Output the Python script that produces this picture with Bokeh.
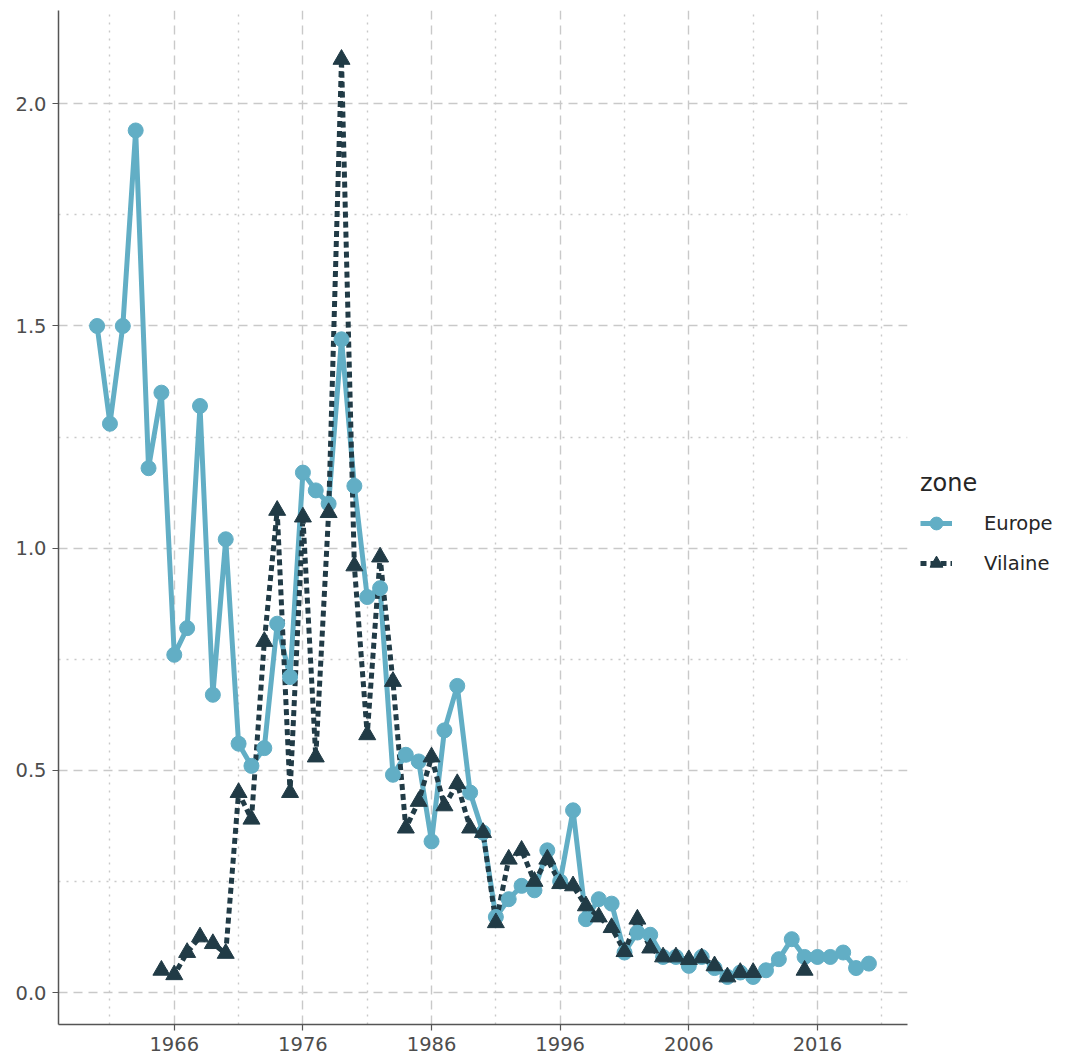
from bokeh.plotting import figure
from bokeh.models import Range1d, FixedTicker, Legend, LegendItem, CustomJSTickFormatter
from bokeh.embed import file_html
from bokeh.resources import INLINE

# ---- data ----
europe_years = list(range(1960, 2021))
europe_values = [1.50, 1.28, 1.50, 1.94, 1.18, 1.35, 0.76, 0.82, 1.32, 0.67,
                 1.02, 0.56, 0.51, 0.55, 0.83, 0.71, 1.17, 1.13, 1.10, 1.47,
                 1.14, 0.89, 0.91, 0.49, 0.535, 0.52, 0.34, 0.59, 0.69, 0.45,
                 0.36, 0.17, 0.21, 0.24, 0.23, 0.32, 0.25, 0.41, 0.165, 0.21,
                 0.20, 0.09, 0.135, 0.13, 0.08, 0.08, 0.06, 0.08, 0.055, 0.035,
                 0.045, 0.035, 0.05, 0.075, 0.12, 0.08, 0.08, 0.08, 0.09, 0.055, 0.065]
nan = float("nan")
vilaine_years = list(range(1965, 2016))
vilaine_values = [0.05, 0.04, 0.09, 0.125, 0.11, 0.088, 0.45, 0.39, 0.79, 1.085,
                  0.45, 1.07, 0.53, 1.08, 2.10, 0.96, 0.58, 0.98, 0.70, 0.37,
                  0.43, 0.53, 0.42, 0.47, 0.37, 0.36, 0.157, 0.30, 0.32, 0.25,
                  0.30, 0.245, 0.24, 0.195, 0.17, 0.146, 0.092, 0.165, 0.10, 0.08,
                  0.08, 0.074, 0.078, 0.06, 0.035, 0.045, 0.045, nan, nan, nan, 0.05]
x_major = [1966, 1976, 1986, 1996, 2006, 2016]
x_minor = [1961, 1971, 1981, 1991, 2001, 2011, 2021]
y_major = [0.0, 0.5, 1.0, 1.5, 2.0]
y_minor = [0.25, 0.75, 1.25, 1.75]
legend_title = "zone"
labels = ["Europe", "Vilaine"]

EU = "#62AEC5"
VI = "#213B46"
FONT = "DejaVu Sans"

p = figure(frame_width=849, frame_height=1014, x_range=Range1d(1957, 2023), y_range=Range1d(-0.072, 2.21),
           output_backend="svg", toolbar_location=None)
p.min_border_left = 58
p.min_border_top = 10
p.min_border_bottom = 30
p.min_border_right = 0
p.outline_line_color = None
p.background_fill_color = "white"
p.border_fill_color = "white"

for ax, maj, mn in ((p.xaxis[0], x_major, x_minor), (p.yaxis[0], y_major, y_minor)):
    ax.ticker = FixedTicker(ticks=maj, minor_ticks=mn)
    ax.axis_line_color = "#555555"
    ax.axis_line_width = 1.5
    ax.major_tick_line_color = "#555555"
    ax.major_tick_line_width = 1.2
    ax.major_tick_in = 0
    ax.major_tick_out = 6
    ax.minor_tick_line_color = None
    ax.major_label_standoff = 6
    ax.major_label_text_font = FONT
    ax.major_label_text_font_size = "19.5px"
    ax.major_label_text_color = "#4D4D4D"
p.yaxis[0].formatter = CustomJSTickFormatter(code="return tick.toFixed(1);")

for g in (p.xgrid[0], p.ygrid[0]):
    g.grid_line_color = "#C9C9C9"
    g.grid_line_width = 1.4
    g.grid_line_dash = "9 6"
    g.minor_grid_line_color = "#C9C9C9"
    g.minor_grid_line_width = 1.4
    g.minor_grid_line_dash = "2 6"

l1 = p.line(europe_years, europe_values, line_color=EU, line_width=5)
l2 = p.line(vilaine_years, vilaine_values, line_color=VI, line_width=5, line_dash="6 4")
s1 = p.scatter(europe_years, europe_values, marker="circle", size=15, fill_color=EU, line_color=EU)
s2 = p.scatter(vilaine_years, vilaine_values, marker="triangle", size=17, fill_color=VI, line_color=VI)

legend = Legend(items=[LegendItem(label=labels[0], renderers=[l1, s1]),
                       LegendItem(label=labels[1], renderers=[l2, s2])],
                location=(13, 441), title=legend_title)
legend.title_text_font = FONT
legend.title_text_font_size = "24px"
legend.title_text_font_style = "normal"
legend.title_text_color = "#262626"
legend.title_standoff = 6
legend.label_text_font = FONT
legend.label_text_font_size = "19.5px"
legend.label_text_color = "#262626"
legend.glyph_width = 32
legend.glyph_height = 40
legend.label_standoff = 32
legend.spacing = 0
legend.padding = 4
legend.margin = 10
legend.border_line_color = None
legend.background_fill_alpha = 0
p.add_layout(legend, "right")

open("out.html", "w").write(file_html(p, INLINE))
